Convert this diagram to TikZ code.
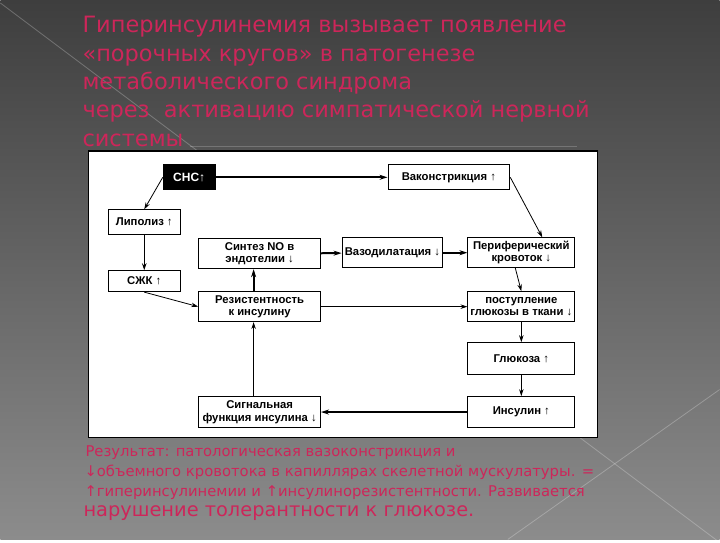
\documentclass[tikz,border=0pt]{standalone}
\usepackage{fontspec}
\setmainfont{DejaVu Sans}
\newfontfamily\boxfont{Liberation Sans}
\usetikzlibrary{arrows.meta}
\definecolor{slidepink}{RGB}{205,38,90}
\definecolor{slidetop}{RGB}{62,62,62}
\definecolor{slidebottom}{RGB}{140,140,140}

\begin{document}
\begin{tikzpicture}[x=1pt, y=-1pt,
    box/.style={draw, line width=0.9pt, fill=white, align=center, inner sep=1pt,
        font=\boxfont\bfseries\fontsize{11.3}{12.5}\selectfont},
    arr/.style={-{Stealth[length=7pt,width=4.5pt]}, line width=0.8pt},
    fatarr/.style={-{Stealth[length=8pt,width=5pt]}, line width=2pt},
    titleline/.style={anchor=base west, inner sep=0pt, text=slidepink,
        font=\fontsize{22.5}{26}\selectfont},
    resultline/.style={anchor=base west, inner sep=0pt, text=slidepink,
        font=\fontsize{14.8}{17}\selectfont}]

    % Slide background
    \shade[top color=slidetop, bottom color=slidebottom] (0,0) rectangle (720,540);
    \draw[white, opacity=0.25, line width=0.8pt] (0,3) -- (720,543);
    \draw[white, opacity=0.25, line width=0.8pt] (720,390) -- (508,540);
    \draw[white, opacity=0.2] (190,146) -- (577,146);

    % Title
    \node[titleline] (t1) at (82,33) {Гиперинсулинемия вызывает появление};
    \node[titleline] (t2) at (82,62) {«порочных кругов» в патогенезе};
    \node[titleline] (t3) at (82,90) {метаболического синдрома};
    \node[titleline] (t4) at (82,118) {через\ \ активацию симпатической нервной};
    \node[titleline] (t5) at (82,147) {системы};

    % Panel
    \draw[line width=1.5pt, fill=white] (88,151) rectangle (598,438);

    % Left column
    \node[box, fill=black, text=white, minimum width=52pt, minimum height=25pt,
        font=\boxfont\bfseries\fontsize{12}{13}\selectfont] (sns) at (189,177.5) {СНС↑};
    \node[box, minimum width=72pt, minimum height=25pt] (lipo) at (144,222.5) {Липолиз ↑};
    \node[box, minimum width=72pt, minimum height=21pt] (szhk) at (144,281.5) {СЖК ↑};

    % Middle column
    \node[box, minimum width=122pt, minimum height=30pt] (sintez) at (259.5,254) {Синтез NO в\\эндотелии ↓};
    \node[box, minimum width=122pt, minimum height=30pt] (rezist) at (259.5,307) {Резистентность\\к инсулину};
    \node[box, minimum width=122pt, minimum height=31pt] (signal) at (259.5,412.5) {Сигнальная\\функция инсулина ↓};
    \node[box, minimum width=101pt, minimum height=30pt] (vasodil) at (392.5,253) {Вазодилатация ↓};

    % Right column
    \node[box, minimum width=122pt, minimum height=25pt] (vaso) at (449,177.5) {Ваконстрикция ↑};
    \node[box, minimum width=107pt, minimum height=30pt] (perif) at (521.5,253) {Периферический\\кровоток ↓};
    \node[box, minimum width=107pt, minimum height=30pt] (postup) at (521.5,307) {поступление\\глюкозы в ткани ↓};
    \node[box, minimum width=107pt, minimum height=32pt] (gluk) at (521.5,359) {Глюкоза ↑};
    \node[box, minimum width=107pt, minimum height=31pt] (insul) at (521.5,412.5) {Инсулин ↑};

    % Connectors
    \draw[fatarr] (sns) -- (vaso);
    \draw[arr] (sns.west) -- (lipo.north);
    \draw[arr] (lipo) -- (szhk);
    \draw[arr] (szhk.south) -- (rezist.west);
    \draw[fatarr] ([xshift=-6pt]rezist.north) -- ([xshift=-6pt]sintez.south);
    \draw[fatarr] (sintez) -- (vasodil);
    \draw[fatarr] (vasodil) -- (perif);
    \draw[arr] (vaso.east) -- ([xshift=21pt]perif.north);
    \draw[arr] ([xshift=-6pt]perif.south) -- (postup.north);
    \draw[arr] (rezist) -- (postup);
    \draw[arr] (postup) -- (gluk);
    \draw[arr] (gluk) -- (insul);
    \draw[fatarr] (insul) -- (signal);
    \draw[arr] ([xshift=-6pt]signal.north) -- ([xshift=-6pt]rezist.south);

    % Result
    \node[resultline] (r1) at (85,457) {Результат: патологическая вазоконстрикция и};
    \node[resultline] (r2) at (84,477) {↓объемного кровотока в капиллярах скелетной мускулатуры. =};
    \node[resultline] (r3) at (84,497) {↑гиперинсулинемии и ↑инсулинорезистентности. Развивается};
    \node[resultline, font=\fontsize{19.4}{21}\selectfont] (r4) at (83,517) {нарушение толерантности к глюкозе.};
\end{tikzpicture}
\end{document}
